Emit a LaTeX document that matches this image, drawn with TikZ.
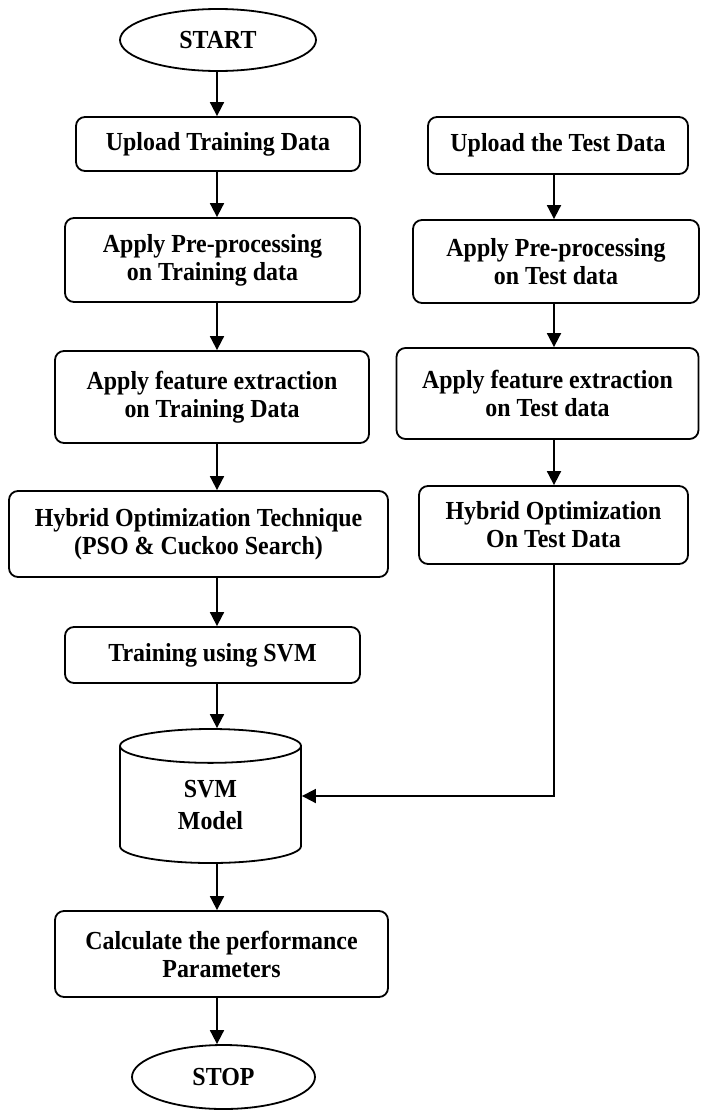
\documentclass[tikz,border=0pt]{standalone}
\usepackage{fontspec}
\setmainfont[FakeStretch=0.92]{Liberation Serif}
\usetikzlibrary{shapes.geometric,arrows.meta}
\tikzset{
  >={Triangle[length=14pt,width=14pt]},
}
\tikzstyle{every node}=[font=\fontsize{26}{28}\selectfont\bfseries,align=center]
\tikzstyle{process}=[draw,line width=1.8pt,rounded corners=9pt,inner sep=0pt]
\tikzstyle{terminal}=[draw,ellipse,line width=1.8pt,inner sep=0pt]
\tikzstyle{store}=[draw,cylinder,shape border rotate=90,aspect=0.52,line width=1.8pt,inner sep=0pt]
\tikzstyle{flow}=[line width=1.8pt,->]

\begin{document}
\begin{tikzpicture}[x=1pt,y=-1pt]
    \useasboundingbox (0,0) rectangle (701,1111);
    \coordinate (leftaxis) at (217,0);
    \coordinate (rightaxis) at (554,0);
    % training column
    \node[terminal,minimum width=196pt,minimum height=62pt] (start) at (218,40) {START};
    \node[process,minimum width=284pt,minimum height=54pt] (upTrain) at (218,144) {Upload Training Data};
    \node[process,minimum width=295pt,minimum height=84pt] (preTrain) at (212.5,260) {Apply Pre-processing\\on Training data};
    \node[process,minimum width=314pt,minimum height=92pt] (featTrain) at (212,397) {Apply feature extraction\\on Training Data};
    \node[process,minimum width=379pt,minimum height=86pt] (hybTrain) at (198.5,534) {Hybrid Optimization Technique\\(PSO \& Cuckoo Search)};
    \node[process,minimum width=295pt,minimum height=56pt] (svmTrain) at (212.5,655) {Training using SVM};
    \node[store,minimum width=181pt,minimum height=134pt,anchor=shape center] (model) at (210.5,796) {SVM\\[4pt]Model};
    \node[process,minimum width=333pt,minimum height=86pt] (calc) at (221.5,954) {Calculate the performance\\Parameters};
    \node[terminal,minimum width=183pt,minimum height=64pt] (stop) at (223.5,1077) {STOP};
    % test column
    \node[process,minimum width=260pt,minimum height=57pt] (upTest) at (558,145.5) {Upload the Test Data};
    \node[process,minimum width=286pt,minimum height=83pt] (preTest) at (556,261.5) {Apply Pre-processing\\on Test data};
    \node[process,minimum width=302pt,minimum height=91pt] (featTest) at (547.5,393.5) {Apply feature extraction\\on Test data};
    \node[process,minimum width=269pt,minimum height=78pt] (hybTest) at (553.5,525) {Hybrid Optimization\\On Test Data};
    % arrows
    \draw[flow] (leftaxis |- start.south) -- (leftaxis |- upTrain.north);
    \draw[flow] (leftaxis |- upTrain.south) -- (leftaxis |- preTrain.north);
    \draw[flow] (leftaxis |- preTrain.south) -- (leftaxis |- featTrain.north);
    \draw[flow] (leftaxis |- featTrain.south) -- (leftaxis |- hybTrain.north);
    \draw[flow] (leftaxis |- hybTrain.south) -- (leftaxis |- svmTrain.north);
    \draw[flow] (leftaxis |- svmTrain.south) -- (leftaxis |- model.north);
    \draw[flow] (leftaxis |- model.south) -- (leftaxis |- calc.north);
    \draw[flow] (leftaxis |- calc.south) -- (leftaxis |- stop.north);
    \draw[flow] (rightaxis |- upTest.south) -- (rightaxis |- preTest.north);
    \draw[flow] (rightaxis |- preTest.south) -- (rightaxis |- featTest.north);
    \draw[flow] (rightaxis |- featTest.south) -- (rightaxis |- hybTest.north);
    \draw[flow] (rightaxis |- hybTest.south) |- (model.east |- model.shape center);
\end{tikzpicture}
\end{document}
